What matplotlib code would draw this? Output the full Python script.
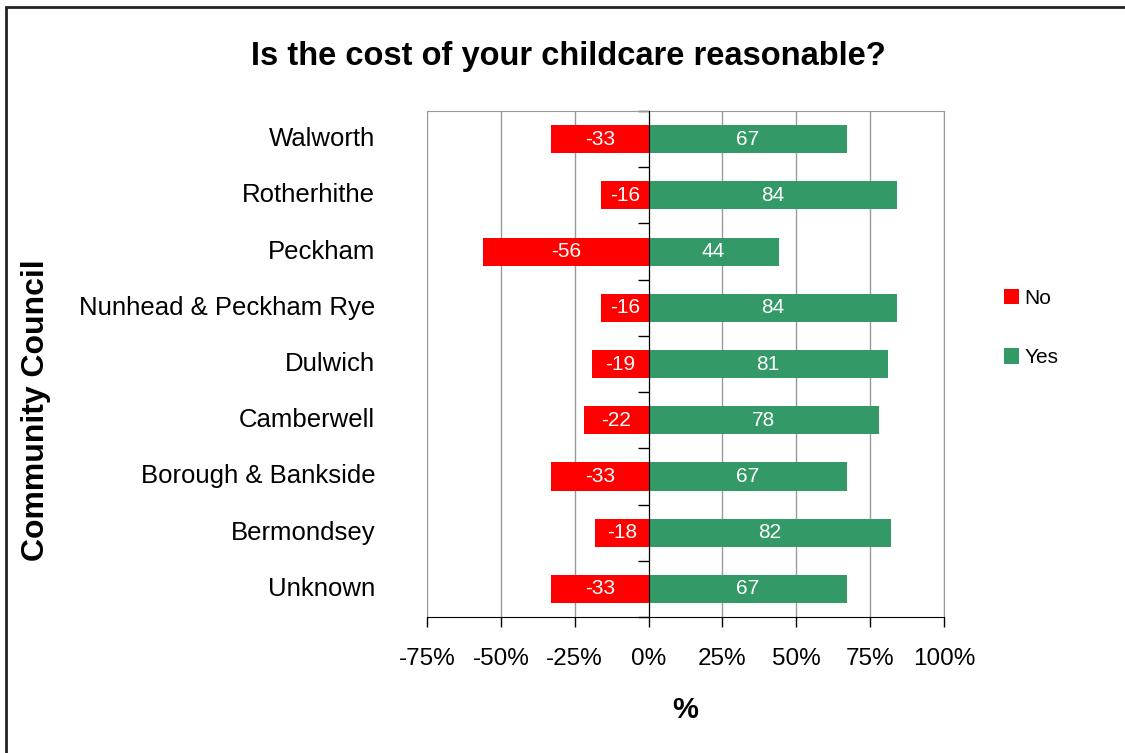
import matplotlib
matplotlib.use("Agg")
import matplotlib.pyplot as plt
import matplotlib.transforms as mtransforms
from matplotlib.patches import Rectangle
import numpy as np

plt.rcParams['font.family'] = ['Liberation Sans', 'DejaVu Sans']

categories = ["Walworth", "Rotherhithe", "Peckham", "Nunhead & Peckham Rye",
              "Dulwich", "Camberwell", "Borough & Bankside", "Bermondsey", "Unknown"]
no_vals = [-33, -16, -56, -16, -19, -22, -33, -18, -33]
yes_vals = [67, 84, 44, 84, 81, 78, 67, 82, 67]
xticks = [-75, -50, -25, 0, 25, 50, 75, 100]
xtick_labels = ["-75%", "-50%", "-25%", "0%", "25%", "50%", "75%", "100%"]

RED = "#FF0000"
GREEN = "#339966"

fig = plt.figure(figsize=(11.25, 7.53), dpi=100)
ax = fig.add_axes([427/1125, 1-617/753, (944-427)/1125, (617-111)/753])

n = len(categories)
y = np.arange(n)[::-1]  # Walworth at top

ax.barh(y, no_vals, height=0.5, color=RED, zorder=3, label="No")
ax.barh(y, yes_vals, height=0.5, color=GREEN, zorder=3, label="Yes")

for yi, v in zip(y, no_vals):
    ax.text(v/2, yi, f"{v}", color="white", ha="center", va="center", fontsize=15, zorder=4)
for yi, v in zip(y, yes_vals):
    ax.text(v/2, yi, f"{v}", color="white", ha="center", va="center", fontsize=15, zorder=4)

ax.set_xlim(-75, 100)
ax.set_ylim(-0.5, n - 0.5)
ax.set_xticks(xticks)
ax.set_xticklabels(xtick_labels, fontsize=17.5)
ax.tick_params(axis='x', direction='out', length=7, width=1, color='black', pad=15)
ax.grid(axis='x', color='#999999', linewidth=1, zorder=0)

# y axis at 0 with ticks between categories
ax.spines['left'].set_position(('data', 0))
ax.spines['left'].set_color('black')
ax.spines['left'].set_zorder(5)
ax.set_yticks(y)
ax.set_yticklabels([])
ax.tick_params(axis='y', which='major', length=0)
ax.set_yticks(np.arange(-0.5, n, 1.0), minor=True)
ax.tick_params(axis='y', which='minor', direction='out', length=8, width=1, color='black')

ax.spines['bottom'].set_color('black')
ax.spines['top'].set_color('#999999')
ax.spines['right'].set_color('#999999')

trans = mtransforms.blended_transform_factory(ax.transAxes, ax.transData)
for yi, name in zip(y, categories):
    ax.text(-0.1, yi, name, transform=trans, ha='right', va='center', fontsize=18.5)

ax.set_xlabel("%", fontsize=21, fontweight='bold', labelpad=19)
fig.text(36/1125, 1-410/753, "Community Council", rotation=90, ha='center', va='center',
         fontsize=23, fontweight='bold')
fig.text(568/1125, 1-56/753, "Is the cost of your childcare reasonable?", ha='center', va='center',
         fontsize=23.5, fontweight='bold')

handles, labels = ax.get_legend_handles_labels()
leg = fig.legend(handles, labels, loc='center left', bbox_to_anchor=(985/1125, 1-328/753),
                 frameon=False, fontsize=15, handlelength=0.75, handleheight=0.75,
                 handletextpad=0.25, labelspacing=1.95)

fig.patches.append(Rectangle((6/1125, -0.01), 1.1, 1 - 7/753 + 0.01, transform=fig.transFigure,
                             fill=False, edgecolor='#222222', linewidth=2))

fig.savefig("out.png", dpi=100)
